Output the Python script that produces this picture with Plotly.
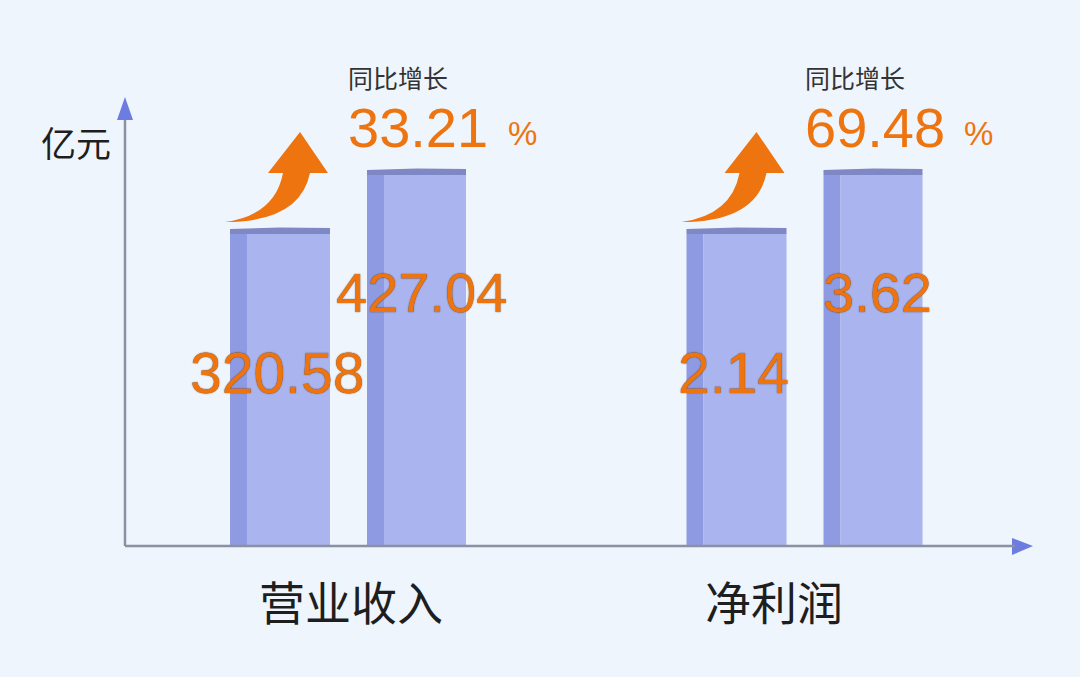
import plotly.graph_objects as go

# ---------------- data ----------------
categories = ["营业收入", "净利润"]
prev_values = [320.58, 2.14]      # 上年
curr_values = [427.04, 3.62]      # 本年
growth_pct = [33.21, 69.48]       # 同比增长 %
unit_label = "亿元"
growth_title = "同比增长"

# ---------------- layout constants ----------------
W, H = 1080, 677
L, R, T, B = 125, 1030, 100, 546          # plot area in pixels
UNIT = 456.5                               # pixels per category unit
X_RANGE = [(L - 348) / UNIT, (R - 348) / UNIT]
# each category is drawn on its own (truncated) value axis
Y_RANGES = [[-242.5, 562.4], [-5.688, 5.501]]
axis_names = ["y", "y2"]

BG = "#EEF5FC"
FRONT = "#AAB4EE"
SIDE = "#8E9AE2"
TOPC = "#7E88C4"
ORANGE = "#EE7410"
AXIS = "#8C91A2"
ARROWBLUE = "#6D7CE0"
SHADOW = "0px 0px 1.2px rgba(60,35,15,0.95)"


def px2paper_x(px):
    return (px - L) / (R - L)


def px2paper_y(py):
    return (B - py) / (B - T)


fig = go.Figure()
shapes = []
annotations = []

# bar geometry (pixels relative to category centre)
bar_specs = [(-118, -18), (19, 118)]
SIDE_W = 17

for i, cat in enumerate(categories):
    yax = axis_names[i]
    lo = Y_RANGES[i][0]
    for (x0, x1), val in zip(bar_specs, [prev_values[i], curr_values[i]]):
        # side face
        fig.add_trace(go.Bar(
            x=[cat], y=[val - lo], base=[lo], yaxis=yax,
            offset=x0 / UNIT, width=SIDE_W / UNIT,
            marker=dict(color=SIDE, line=dict(width=0)),
            hoverinfo="skip", showlegend=False))
        # front face
        fig.add_trace(go.Bar(
            x=[cat], y=[val - lo], base=[lo], yaxis=yax,
            offset=(x0 + SIDE_W) / UNIT, width=(x1 - x0 - SIDE_W) / UNIT,
            marker=dict(color=FRONT, line=dict(width=0)),
            hovertemplate=f"{cat}: {val}<extra></extra>", showlegend=False))
        # top face (thin band)
        shapes.append(dict(
            type="path", xref="x", yref=yax, ysizemode="pixel", yanchor=val,
            path=(f"M {i + x0 / UNIT},0 L {i + x0 / UNIT},5 "
                  f"L {i + (x0 + 50) / UNIT},6.5 L {i + x1 / UNIT},6 L {i + x1 / UNIT},0 Z"),
            fillcolor=TOPC, line=dict(width=0), layer="above"))

    # value labels
    annotations.append(dict(
        x=i, xref="x", xshift=-71, y=px2paper_y(373), yref="paper",
        text=f"{prev_values[i]:.2f}", showarrow=False, xanchor="center", yanchor="middle",
        font=dict(family="Liberation Sans, Arial", size=57, color=ORANGE, shadow=SHADOW)))
    annotations.append(dict(
        x=i, xref="x", xshift=73, y=px2paper_y(292), yref="paper",
        text=f"{curr_values[i]:.2f}", showarrow=False, xanchor="center", yanchor="middle",
        font=dict(family="Liberation Sans, Arial", size=56, color=ORANGE, shadow=SHADOW)))

    # growth texts
    annotations.append(dict(
        x=i, xref="x", xshift=50, y=px2paper_y(77), yref="paper",
        text=growth_title, showarrow=False, xanchor="center", yanchor="middle",
        font=dict(family="Noto Sans CJK SC", size=25, color="#333333")))
    annotations.append(dict(
        x=i, xref="x", xshift=70, y=px2paper_y(128), yref="paper",
        text=f"{growth_pct[i]:.2f}", showarrow=False, xanchor="center", yanchor="middle",
        font=dict(family="Liberation Sans, Arial", size=56, color=ORANGE)))
    annotations.append(dict(
        x=i, xref="x", xshift=174, y=px2paper_y(133), yref="paper",
        text="%", showarrow=False, xanchor="center", yanchor="middle",
        font=dict(family="Liberation Sans, Arial", size=33, color=ORANGE)))

    # category label
    annotations.append(dict(
        x=i, xref="x", xshift=[3, -31][i], y=px2paper_y(600), yref="paper",
        text=cat, showarrow=False, xanchor="center", yanchor="middle",
        font=dict(family="Noto Sans CJK SC", size=46, color="#1e1e1e")))

    # growth arrow (orange curved)
    pts = lambda dx: i + dx / UNIT
    yy = lambda py: px2paper_y(py)
    path = (f"M {pts(-123)},{yy(222)} "
            f"Q {pts(-73)},{yy(215)} {pts(-65)},{yy(173)} "
            f"L {pts(-80)},{yy(173)} L {pts(-48)},{yy(132)} L {pts(-20)},{yy(173)} "
            f"L {pts(-38)},{yy(173)} "
            f"Q {pts(-48)},{yy(222)} {pts(-123)},{yy(222)} Z")
    shapes.append(dict(type="path", xref="x", yref="paper", path=path,
                       fillcolor=ORANGE, line=dict(width=0), layer="above"))

# unit label
annotations.append(dict(
    x=px2paper_x(76), xref="paper", y=px2paper_y(141), yref="paper",
    text=unit_label, showarrow=False, xanchor="center", yanchor="middle",
    font=dict(family="Noto Sans CJK SC", size=35, color="#1e1e1e")))

# axis arrow heads
shapes.append(dict(type="path", xref="paper", yref="paper",
                   path=(f"M {px2paper_x(125)},{px2paper_y(97)} L {px2paper_x(117)},{px2paper_y(120)} "
                         f"L {px2paper_x(133)},{px2paper_y(120)} Z"),
                   fillcolor=ARROWBLUE, line=dict(width=0)))
shapes.append(dict(type="path", xref="paper", yref="paper",
                   path=(f"M {px2paper_x(1033)},{px2paper_y(546)} L {px2paper_x(1012)},{px2paper_y(538)} "
                         f"L {px2paper_x(1012)},{px2paper_y(555)} Z"),
                   fillcolor=ARROWBLUE, line=dict(width=0)))
# axis lines
shapes.append(dict(type="line", xref="paper", yref="paper",
                   x0=px2paper_x(125), x1=px2paper_x(125), y0=px2paper_y(546), y1=px2paper_y(115),
                   line=dict(color=AXIS, width=2.5), layer="below"))
shapes.append(dict(type="line", xref="paper", yref="paper",
                   x0=px2paper_x(125), x1=px2paper_x(1015), y0=px2paper_y(546), y1=px2paper_y(546),
                   line=dict(color=AXIS, width=2.5), layer="above"))

fig.update_layout(
    width=W, height=H,
    margin=dict(l=L, r=W - R, t=T, b=H - B, pad=0),
    paper_bgcolor=BG, plot_bgcolor=BG,
    barmode="overlay",
    showlegend=False,
    xaxis=dict(type="category", categoryorder="array", categoryarray=categories,
               range=X_RANGE, showgrid=False, zeroline=False, showticklabels=False,
               ticks="", showline=False, fixedrange=True),
    yaxis=dict(range=Y_RANGES[0], showgrid=False, zeroline=False, showticklabels=False,
               ticks="", showline=False, fixedrange=True),
    yaxis2=dict(range=Y_RANGES[1], overlaying="y", showgrid=False, zeroline=False,
                showticklabels=False, ticks="", showline=False, fixedrange=True),
    shapes=shapes,
    annotations=annotations,
)

fig.write_html("out.html", config={"displayModeBar": False},
               post_script="document.body.style.margin='0';")
